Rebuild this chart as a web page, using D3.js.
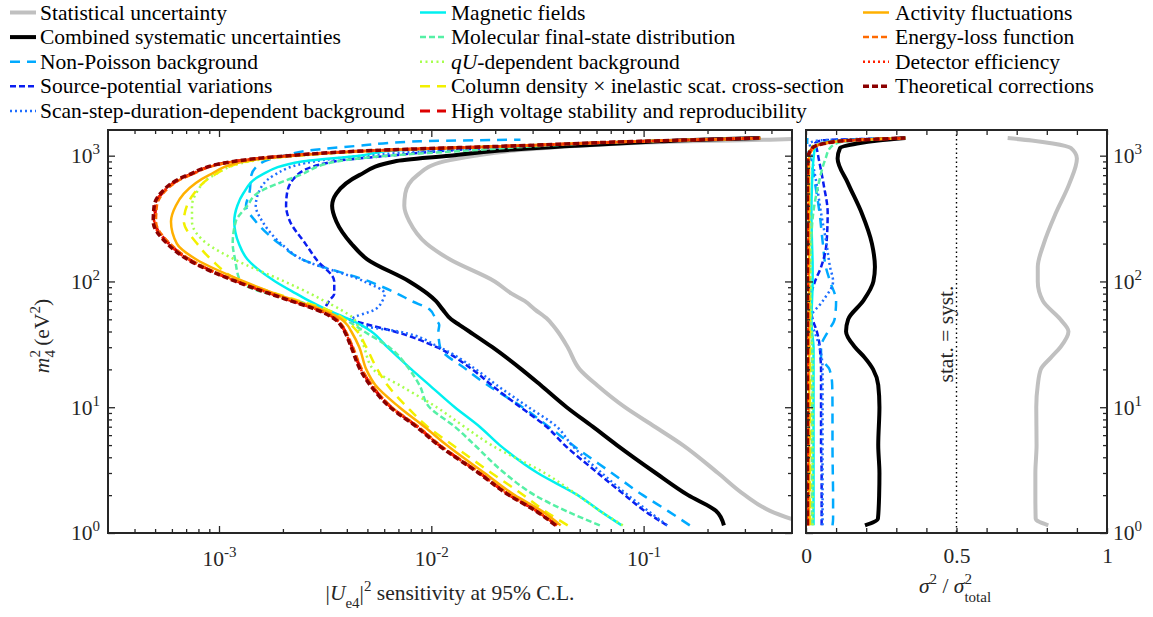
<!DOCTYPE html>
<html>
<head>
<meta charset="utf-8">
<script src="https://cdn.jsdelivr.net/npm/d3@7"></script>
<style>
  body { margin: 0; background: #fff; }
  svg { display: block; font-family: "Liberation Serif", "Times New Roman", serif; }
</style>
</head>
<body>
<script>
// ---- data ----
// left panel: m4^2 (eV^2) grid, and |Ue4|^2 sensitivity per uncertainty
var m2Left = [1.15, 1.5, 2, 3, 5, 7, 10, 15, 20, 30, 40, 45, 50, 60, 70, 80, 100, 150, 200, 300, 400, 500, 700, 900, 1000, 1100, 1200, 1300, 1340, 1380];

var statLeft = [0.609, 0.394, 0.3, 0.224, 0.153, 0.113, 0.0816, 0.0602, 0.05, 0.0439, 0.0394, 0.0373, 0.0353, 0.0307, 0.0275, 0.0239, 0.0199, 0.0122, 0.00948, 0.00788, 0.00746, 0.00754, 0.0086, 0.0115, 0.016, 0.0247, 0.05, 0.165, 0.394, 0.757];
var systLeft = [0.239, 0.219, 0.162, 0.114, 0.0748, 0.0576, 0.0434, 0.0327, 0.0266, 0.0194, 0.0151, 0.0136, 0.0124, 0.0113, 0.0105, 0.00959, 0.00788, 0.00499, 0.0042, 0.00357, 0.00341, 0.00357, 0.00458, 0.0067, 0.0122, 0.021, 0.0474, 0.119, 0.184, 0.354];
var nonPoissonLeft = [0.165, 0.13, 0.0992, 0.0708, 0.0463, 0.0357, 0.0269, 0.0184, 0.0146, 0.011, 0.0108, 0.0109, 0.0105, 0.0098, 0.00806, 0.00692, 0.0051, 0.00246, 0.00192, 0.00149, 0.00134, 0.00139, 0.00142, 0.00163, 0.00203, 0.00266, 0.00458, 0.00879, 0.0263, null];
var sourcePotLeft = [0.129, 0.101, 0.0816, 0.0608, 0.0425, 0.0349, 0.0263, 0.0192, 0.0156, 0.0106, 0.0067, 0.0051, 0.00406, 0.00316, 0.0033, 0.00349, 0.00349, 0.00287, 0.00255, 0.00216, 0.00207, 0.00209, 0.00233, 0.00349, 0.00634, 0.0122, 0.029, 0.096, 0.184, 0.354];
var scanStepLeft = [0.129, 0.105, 0.0843, 0.0635, 0.0459, 0.039, 0.0287, 0.0203, 0.0162, 0.0109, 0.007, 0.00458, 0.00424, 0.00545, 0.00588, 0.00603, 0.00483, 0.00246, 0.00196, 0.0016, 0.00149, 0.00153, 0.00182, 0.00281, 0.00483, 0.0109, 0.029, 0.096, 0.184, 0.354];
var magneticLeft = [0.0789, 0.0622, 0.0489, 0.0317, 0.021, 0.0169, 0.0129, 0.0098, 0.00806, 0.00621, 0.00522, 0.00468, 0.00411, 0.0032, 0.00266, 0.00231, 0.00184, 0.00136, 0.00124, 0.00118, 0.00122, 0.0013, 0.00158, 0.00246, 0.00458, 0.0067, 0.0261, 0.096, 0.184, 0.354];
var fsdLeft = [0.0622, 0.043, 0.0307, 0.0221, 0.016, 0.0129, 0.0098, 0.00879, 0.00788, 0.00634, 0.00483, 0.00434, 0.00389, 0.00303, 0.00233, 0.00169, 0.00126, 0.00119, 0.00116, 0.0012, 0.00136, 0.00151, 0.0024, 0.0036, 0.00634, 0.0151, 0.0342, 0.096, 0.184, 0.354];
var qULeft = [0.0798, 0.0622, 0.0489, 0.0342, 0.0192, 0.0143, 0.0106, 0.00707, 0.00533, 0.00483, 0.00458, 0.00448, 0.00434, 0.00372, 0.00313, 0.00269, 0.00203, 0.00118, 0.000878, 0.000746, 0.000746, 0.000779, 0.000947, 0.00139, 0.00239, 0.00569, 0.0261, 0.096, 0.184, 0.354];
var columnLeft = [0.0439, 0.0342, 0.0272, 0.0192, 0.0126, 0.00959, 0.00771, 0.00621, 0.00557, 0.00494, 0.00448, 0.0042, 0.00389, 0.0032, 0.00239, 0.00186, 0.00128, 0.000917, 0.000788, 0.000683, 0.000706, 0.000762, 0.000947, 0.00136, 0.00233, 0.00569, 0.0261, 0.096, 0.184, 0.354];
var hvLeft = [0.039, 0.0313, 0.0234, 0.0169, 0.0109, 0.0086, 0.00648, 0.00522, 0.00468, 0.00424, 0.00393, 0.00377, 0.00357, 0.0029, 0.00221, 0.00176, 0.00122, 0.000722, 0.000581, 0.000499, 0.000504, 0.000538, 0.000722, 0.00118, 0.00214, 0.00539, 0.0261, 0.096, 0.184, 0.354];
var activityLeft = [0.0407, 0.0331, 0.0247, 0.0178, 0.0118, 0.00928, 0.00707, 0.00545, 0.00494, 0.00458, 0.0042, 0.00402, 0.00377, 0.00303, 0.00231, 0.00184, 0.00131, 0.000779, 0.000633, 0.000594, 0.000626, 0.000683, 0.000897, 0.00131, 0.00226, 0.00551, 0.0261, 0.096, 0.184, 0.354];
var elossLeft = [0.0392, 0.0315, 0.0236, 0.017, 0.011, 0.0087, 0.00652, 0.00526, 0.00472, 0.00428, 0.00396, 0.0038, 0.0036, 0.00293, 0.00223, 0.00178, 0.00123, 0.00073, 0.000588, 0.000505, 0.00051, 0.000545, 0.00073, 0.00119, 0.00215, 0.0054, 0.0262, 0.0965, 0.185, 0.355];
var detEffLeft = [0.0388, 0.0312, 0.0233, 0.0168, 0.0109, 0.0086, 0.00645, 0.0052, 0.00466, 0.00422, 0.00392, 0.00376, 0.00355, 0.00288, 0.0022, 0.00175, 0.00121, 0.000715, 0.000575, 0.000495, 0.0005, 0.000535, 0.000718, 0.00118, 0.00213, 0.00537, 0.026, 0.0955, 0.184, 0.353];
var theoryLeft = [0.0385, 0.031, 0.0232, 0.0167, 0.0108, 0.0085, 0.0064, 0.00515, 0.00462, 0.0042, 0.0039, 0.00374, 0.00352, 0.00285, 0.00218, 0.00173, 0.0012, 0.00071, 0.00057, 0.00049, 0.000495, 0.00053, 0.00071, 0.00117, 0.00212, 0.00535, 0.026, 0.095, 0.183, 0.352];

// right panel: m4^2 grid, and sigma^2 / sigma^2_total per uncertainty
var m2Right = [1.15, 1.3, 2, 3, 5, 10, 15, 20, 25, 30, 40, 50, 70, 100, 130, 200, 350, 600, 950, 1150, 1250, 1320, 1380];

var statRight = [0.805, 0.763, 0.762, 0.762, 0.766, 0.765, 0.77, 0.78, 0.815, 0.845, 0.872, 0.845, 0.787, 0.77, 0.77, 0.79, 0.83, 0.875, 0.9, 0.88, 0.82, 0.75, 0.67];
var systRight = [0.196, 0.239, 0.243, 0.244, 0.24, 0.244, 0.24, 0.223, 0.194, 0.163, 0.133, 0.14, 0.19, 0.224, 0.229, 0.219, 0.185, 0.14, 0.105, 0.113, 0.17, 0.24, 0.33];
var nonPoissonRight = [0.088, 0.09, 0.09, 0.089, 0.088, 0.088, 0.087, 0.078, 0.05, 0.05, 0.073, 0.095, 0.1, 0.08, 0.066, 0.056, 0.045, 0.03, 0.015, 0.006, 0.004, 0.004, 0.005];
var sourcePotRight = [0.052, 0.052, 0.052, 0.052, 0.05, 0.05, 0.05, 0.05, 0.048, 0.046, 0.036, 0.022, 0.014, 0.03, 0.05, 0.068, 0.072, 0.058, 0.042, 0.035, 0.03, 0.05, 0.33];
var scanStepRight = [0.055, 0.055, 0.055, 0.055, 0.055, 0.055, 0.055, 0.055, 0.052, 0.045, 0.028, 0.013, 0.056, 0.09, 0.08, 0.068, 0.05, 0.035, 0.02, 0.015, 0.012, 0.04, 0.33];
var magneticRight = [0.025, 0.025, 0.025, 0.025, 0.025, 0.025, 0.025, 0.025, 0.025, 0.025, 0.02, 0.018, 0.02, 0.022, 0.022, 0.02, 0.018, 0.02, 0.025, 0.03, 0.05, 0.12, 0.33];
var fsdRight = [0.02, 0.02, 0.02, 0.02, 0.02, 0.02, 0.02, 0.02, 0.02, 0.02, 0.018, 0.016, 0.016, 0.015, 0.015, 0.017, 0.024, 0.042, 0.065, 0.08, 0.1, 0.16, 0.33];
var qURight = [0.022, 0.022, 0.022, 0.022, 0.022, 0.022, 0.022, 0.022, 0.022, 0.02, 0.018, 0.015, 0.015, 0.015, 0.015, 0.014, 0.012, 0.01, 0.01, 0.015, 0.05, 0.12, 0.33];
var columnRight = [0.013, 0.013, 0.013, 0.013, 0.013, 0.013, 0.013, 0.013, 0.013, 0.012, 0.012, 0.012, 0.011, 0.01, 0.009, 0.008, 0.008, 0.008, 0.008, 0.02, 0.06, 0.13, 0.33];
var hvRight = [0.007, 0.007, 0.007, 0.007, 0.007, 0.007, 0.007, 0.007, 0.007, 0.007, 0.007, 0.007, 0.007, 0.007, 0.007, 0.007, 0.007, 0.007, 0.008, 0.023, 0.06, 0.14, 0.33];
var activityRight = [0.01, 0.01, 0.01, 0.01, 0.01, 0.01, 0.01, 0.01, 0.01, 0.01, 0.01, 0.01, 0.01, 0.01, 0.01, 0.01, 0.01, 0.01, 0.01, 0.025, 0.06, 0.14, 0.33];
var elossRight = [0.008, 0.008, 0.008, 0.008, 0.008, 0.008, 0.008, 0.008, 0.008, 0.008, 0.008, 0.008, 0.008, 0.008, 0.008, 0.008, 0.008, 0.008, 0.008, 0.023, 0.06, 0.14, 0.33];
var detEffRight = [0.006, 0.006, 0.006, 0.006, 0.006, 0.006, 0.006, 0.006, 0.006, 0.006, 0.006, 0.006, 0.006, 0.006, 0.006, 0.006, 0.006, 0.006, 0.007, 0.022, 0.06, 0.14, 0.33];
var theoryRight = [0.004, 0.004, 0.004, 0.004, 0.004, 0.004, 0.004, 0.004, 0.004, 0.004, 0.004, 0.004, 0.004, 0.004, 0.004, 0.004, 0.004, 0.004, 0.006, 0.02, 0.06, 0.14, 0.33];

// tick values
var xMajorTicks = [1e-3, 1e-2, 1e-1];
var xMinorTicks = [4e-4, 5e-4, 6e-4, 7e-4, 8e-4, 9e-4, 2e-3, 3e-3, 4e-3, 5e-3, 6e-3, 7e-3, 8e-3, 9e-3,
                   2e-2, 3e-2, 4e-2, 5e-2, 6e-2, 7e-2, 8e-2, 9e-2, 0.2, 0.3, 0.4];
var yMajorTicks = [1, 10, 100, 1000];
var yMinorTicks = [2, 3, 4, 5, 6, 7, 8, 9, 20, 30, 40, 50, 60, 70, 80, 90, 200, 300, 400, 500, 600, 700, 800, 900];
var fracTicks = [0, 0.1, 0.2, 0.3, 0.4, 0.5, 0.6, 0.7, 0.8, 0.9, 1];
var fracLabels = [0, 0.5, 1];

// ---- series styles ----
var series = [
  {name: "Statistical uncertainty", left: statLeft, right: statRight, color: "#c0c0c0", width: 4, dash: null},
  {name: "Combined systematic uncertainties", left: systLeft, right: systRight, color: "#000000", width: 4, dash: null},
  {name: "Non-Poisson background", left: nonPoissonLeft, right: nonPoissonRight, color: "#00aaff", width: 2.5, dash: "10,7"},
  {name: "Source-potential variations", left: sourcePotLeft, right: sourcePotRight, color: "#0a1ef0", width: 2.5, dash: "6,3"},
  {name: "Scan-step-duration-dependent background", left: scanStepLeft, right: scanStepRight, color: "#1e6eff", width: 2.5, dash: "2,3"},
  {name: "Magnetic fields", left: magneticLeft, right: magneticRight, color: "#00f0f0", width: 2.5, dash: null},
  {name: "Molecular final-state distribution", left: fsdLeft, right: fsdRight, color: "#55f0a5", width: 2.5, dash: "6,3"},
  {name: "qU-dependent background", left: qULeft, right: qURight, color: "#a6ff4d", width: 2.5, dash: "2,3.5"},
  {name: "Column density \u00d7 inelastic scat. cross-section", left: columnLeft, right: columnRight, color: "#f2f000", width: 2.5, dash: "10,7"},
  {name: "High voltage stability and reproducibility", left: hvLeft, right: hvRight, color: "#dd0000", width: 3, dash: "10,7"},
  {name: "Activity fluctuations", left: activityLeft, right: activityRight, color: "#ffb000", width: 2.5, dash: null},
  {name: "Energy-loss function", left: elossLeft, right: elossRight, color: "#ff6a00", width: 2.5, dash: "6,3"},
  {name: "Detector efficiency", left: detEffLeft, right: detEffRight, color: "#ff2000", width: 2.5, dash: "2,3"},
  {name: "Theoretical corrections", left: theoryLeft, right: theoryRight, color: "#8b0000", width: 3.5, dash: "6,3"}
];

var svg = d3.select("body").append("svg")
  .attr("width", 1153)
  .attr("height", 617);

var axisColor = "#262626";
var fontSize = 21.5;

// scales
var x = d3.scaleLog().domain([3e-4, 0.5]).range([108, 792]);
var y = d3.scaleLog().domain([1, 1600]).range([533, 130]);
var xr = d3.scaleLinear().domain([0, 1]).range([806, 1107]);

// clip areas
var defs = svg.append("defs");
defs.append("clipPath").attr("id", "clipL").append("rect")
  .attr("x", 108).attr("y", 130).attr("width", 684).attr("height", 403);
defs.append("clipPath").attr("id", "clipR").append("rect")
  .attr("x", 806).attr("y", 130).attr("width", 301).attr("height", 403);

// curves
var lineL = d3.line()
  .defined(function(d) { return d[1] != null; })
  .x(function(d) { return x(d[1]); })
  .y(function(d) { return y(d[0]); })
  .curve(d3.curveMonotoneY);
var lineR = d3.line()
  .x(function(d) { return xr(d[1]); })
  .y(function(d) { return y(d[0]); })
  .curve(d3.curveMonotoneY);

var gL = svg.append("g").attr("clip-path", "url(#clipL)");
var gR = svg.append("g").attr("clip-path", "url(#clipR)");

// stat = syst reference line
gR.append("line")
  .attr("x1", xr(0.5)).attr("x2", xr(0.5))
  .attr("y1", 130).attr("y2", 533)
  .attr("stroke", "#000").attr("stroke-width", 1.4)
  .attr("stroke-dasharray", "1.5,3");

series.forEach(function(s) {
  gL.append("path")
    .attr("d", lineL(m2Left.map(function(m, i) { return [m, s.left[i]]; })))
    .attr("fill", "none")
    .attr("stroke", s.color)
    .attr("stroke-width", s.width)
    .attr("stroke-dasharray", s.dash);
  gR.append("path")
    .attr("d", lineR(m2Right.map(function(m, i) { return [m, s.right[i]]; })))
    .attr("fill", "none")
    .attr("stroke", s.color)
    .attr("stroke-width", s.width)
    .attr("stroke-dasharray", s.dash);
});

// ---- axes ----
function ticks(axis, tr, vals, size) {
  var g = svg.append("g").attr("transform", tr)
    .call(axis.tickValues(vals).tickSize(size).tickFormat(""));
  g.select(".domain").remove();
  g.selectAll("line").attr("stroke", axisColor).attr("stroke-width", 1.3);
  return g;
}
function powText(sel) {
  sel.each(function(d) {
    var t = d3.select(this);
    t.text(null);
    t.append("tspan").text("10");
    t.append("tspan").attr("font-size", 15).attr("dy", -9).text(Math.round(Math.log10(d)));
  });
}

// left panel
ticks(d3.axisBottom(x), "translate(0,533)", xMajorTicks, -7);
ticks(d3.axisBottom(x), "translate(0,533)", xMinorTicks, -4);
ticks(d3.axisTop(x), "translate(0,130)", xMajorTicks, -7);
ticks(d3.axisTop(x), "translate(0,130)", xMinorTicks, -4);
ticks(d3.axisLeft(y), "translate(108,0)", yMajorTicks, -7);
ticks(d3.axisLeft(y), "translate(108,0)", yMinorTicks, -4);
ticks(d3.axisRight(y), "translate(792,0)", yMajorTicks, -7);
ticks(d3.axisRight(y), "translate(792,0)", yMinorTicks, -4);

// right panel
ticks(d3.axisBottom(xr), "translate(0,533)", fracTicks, -5);
ticks(d3.axisTop(xr), "translate(0,130)", fracTicks, -5);
ticks(d3.axisLeft(y), "translate(806,0)", yMajorTicks, -7);
ticks(d3.axisLeft(y), "translate(806,0)", yMinorTicks, -4);
ticks(d3.axisRight(y), "translate(1107,0)", yMajorTicks, -7);
ticks(d3.axisRight(y), "translate(1107,0)", yMinorTicks, -4);

// tick labels
var xl = svg.append("g").attr("transform", "translate(0,533)")
  .call(d3.axisBottom(x).tickValues(xMajorTicks).tickSize(0));
xl.select(".domain").remove();
xl.selectAll("text").attr("y", 33).attr("dy", 0).call(powText);

var yl = svg.append("g").attr("transform", "translate(108,0)")
  .call(d3.axisLeft(y).tickValues(yMajorTicks).tickSize(0).tickPadding(8));
yl.select(".domain").remove();
yl.selectAll("text").call(powText);

var yr = svg.append("g").attr("transform", "translate(1107,0)")
  .call(d3.axisRight(y).tickValues(yMajorTicks).tickSize(0).tickPadding(6));
yr.select(".domain").remove();
yr.selectAll("text").call(powText);

var fl = svg.append("g").attr("transform", "translate(0,533)")
  .call(d3.axisBottom(xr).tickValues(fracLabels).tickSize(0).tickFormat(d3.format("")));
fl.select(".domain").remove();
fl.selectAll("text").attr("y", 30).attr("dy", 0);

svg.selectAll(".tick text")
  .attr("font-family", "Liberation Serif, serif")
  .attr("font-size", fontSize)
  .attr("fill", axisColor);

// frames
svg.append("rect").attr("x", 108).attr("y", 130).attr("width", 684).attr("height", 403)
  .attr("fill", "none").attr("stroke", axisColor).attr("stroke-width", 2);
svg.append("rect").attr("x", 806).attr("y", 130).attr("width", 301).attr("height", 403)
  .attr("fill", "none").attr("stroke", axisColor).attr("stroke-width", 2);

// axis titles
var ty = svg.append("text")
  .attr("transform", "translate(49,336) rotate(-90)")
  .attr("text-anchor", "middle")
  .attr("font-size", fontSize).attr("fill", axisColor);
ty.append("tspan").attr("font-style", "italic").text("m");
ty.append("tspan").attr("font-size", 15).attr("dy", -9).text("2");
ty.append("tspan").attr("font-size", 15).attr("dx", -7.5).attr("dy", 15).text("4");
ty.append("tspan").attr("dy", -6).text("\u2009(eV");
ty.append("tspan").attr("font-size", 15).attr("dy", -9).text("2");
ty.append("tspan").attr("dy", 9).text(")");

var tx = svg.append("text")
  .attr("x", 450).attr("y", 600)
  .attr("text-anchor", "middle")
  .attr("font-size", fontSize).attr("fill", axisColor);
tx.append("tspan").text("|");
tx.append("tspan").attr("font-style", "italic").text("U");
tx.append("tspan").attr("font-size", 15).attr("dy", 8).text("e4");
tx.append("tspan").attr("dy", -8).text("|");
tx.append("tspan").attr("font-size", 15).attr("dy", -9).text("2");
tx.append("tspan").attr("dy", 9).text(" sensitivity at 95% C.L.");

var tr = svg.append("text")
  .attr("x", 955).attr("y", 593)
  .attr("text-anchor", "middle")
  .attr("font-size", fontSize).attr("fill", axisColor);
tr.append("tspan").attr("font-style", "italic").text("\u03c3");
tr.append("tspan").attr("font-size", 15).attr("dy", -9).text("2");
tr.append("tspan").attr("dy", 9).text(" / ");
tr.append("tspan").attr("font-style", "italic").text("\u03c3");
tr.append("tspan").attr("font-size", 15).attr("dy", -9).text("2");
tr.append("tspan").attr("font-size", 15).attr("dx", -7.5).attr("dy", 18).text("total");

svg.append("text")
  .attr("transform", "translate(953,334) rotate(-90)")
  .attr("text-anchor", "middle")
  .attr("font-size", fontSize).attr("fill", axisColor)
  .text("stat. = syst.");

// ---- legend ----
var legendCols = [
  {lineX: 10, textX: 40, items: series.slice(0, 5)},
  {lineX: 420, textX: 451, items: series.slice(5, 10)},
  {lineX: 863, textX: 895, items: series.slice(10, 14)}
];
legendCols.forEach(function(col) {
  col.items.forEach(function(s, i) {
    var base = 19.5 + i * 24.6;
    svg.append("line")
      .attr("x1", col.lineX).attr("x2", col.lineX + 26)
      .attr("y1", base - 7).attr("y2", base - 7)
      .attr("stroke", s.color)
      .attr("stroke-width", s.width)
      .attr("stroke-dasharray", s.dash);
    var t = svg.append("text")
      .attr("x", col.textX).attr("y", base)
      .attr("font-size", fontSize).attr("fill", "#000");
    if (s.name.indexOf("qU") === 0) {
      t.append("tspan").attr("font-style", "italic").text("qU");
      t.append("tspan").text(s.name.slice(2));
    } else {
      t.text(s.name);
    }
  });
});
</script>
</body>
</html>
